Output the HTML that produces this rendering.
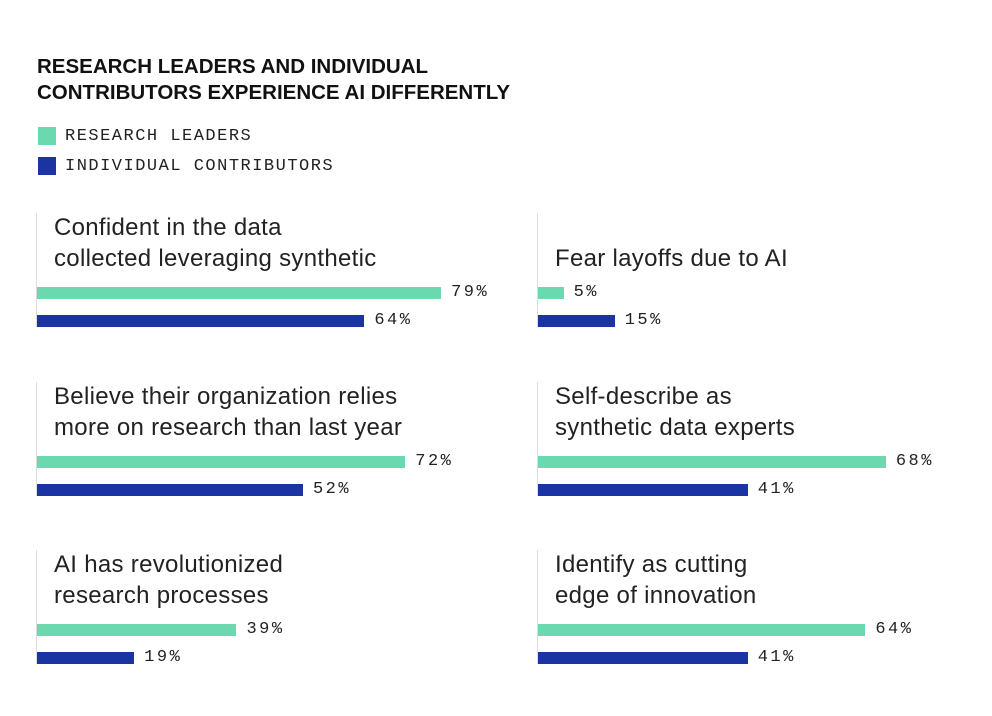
<!DOCTYPE html>
<html><head><meta charset="utf-8"><style>
body{margin:0;width:992px;height:716px;background:#fff;position:relative;overflow:hidden;font-family:"Liberation Sans",sans-serif;}
.abs{position:absolute;}
.title{left:37px;top:54px;font-weight:bold;font-size:20.5px;line-height:26px;color:#111;letter-spacing:0px;}
.leg{left:38px;width:18px;height:18px;}
.legt{left:65px;font-family:"Liberation Mono",monospace;font-size:17px;letter-spacing:1.5px;color:#222;}
.lab{font-size:24px;line-height:31px;color:#222;letter-spacing:0.3px;}
.val{font-family:"Liberation Mono",monospace;font-size:17px;letter-spacing:2.5px;color:#222;}
</style></head><body>
<div class="abs title">RESEARCH LEADERS AND INDIVIDUAL<br>CONTRIBUTORS EXPERIENCE AI DIFFERENTLY</div>
<div class="abs leg" style="top:127px;background:#6cd8b0"></div>
<div class="abs legt" style="top:127px">RESEARCH LEADERS</div>
<div class="abs leg" style="top:157px;background:#1a35a3"></div>
<div class="abs legt" style="top:157px">INDIVIDUAL CONTRIBUTORS</div>
<div id="chart"></div>
<script>
const categories=[["Confident in the data","collected leveraging synthetic"],["Believe their organization relies","more on research than last year"],["AI has revolutionized","research processes"],["Fear layoffs due to AI"],["Self-describe as","synthetic data experts"],["Identify as cutting","edge of innovation"]];
const leaders=[79,72,39,5,68,64];
const contributors=[64,52,19,15,41,41];
const chart=document.getElementById('chart');
const scale=5.115;
function xw(v){return v*scale;}
function mk(cls,style,text){const d=document.createElement('div');d.className='abs '+cls;d.style.cssText=style;if(text!==undefined)d.innerHTML=text;chart.appendChild(d);return d;}
categories.forEach((c,i)=>{
  const col=Math.floor(i/3),row=i%3;
  const x0=col?538:37, gy=287+row*168.5, by=gy+28;
  const ln=mk('', `left:${x0-1}px;top:${gy-74}px;width:1px;height:${by+12-(gy-74)}px;background:#ddd`);
  
  
  const lab=mk('lab',`left:${x0+17}px;top:${gy-75+(2-c.length)*31}px`,c.join('<br>'));
  
  
  const g=mk('',`left:${x0}px;top:${gy}px;width:${xw(leaders[i])}px;height:12px;background:#6cd8b0`);
  
  
  const gv=mk('val',`left:${x0+xw(leaders[i])+10}px;top:${gy-4}px`,leaders[i]+'%');
  
  
  const b=mk('',`left:${x0}px;top:${by}px;width:${xw(contributors[i])}px;height:12px;background:#1a35a3`);
  
  
  const bv=mk('val',`left:${x0+xw(contributors[i])+10}px;top:${by-4}px`,contributors[i]+'%');
  
  
});
</script>
</body></html>
